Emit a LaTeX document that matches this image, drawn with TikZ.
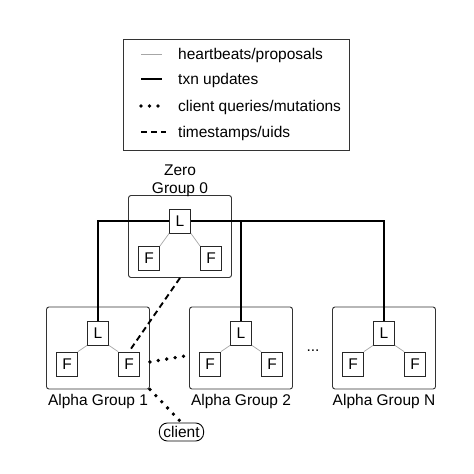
\documentclass[tikz,border=0pt]{standalone}
\usepackage{fontspec}
\setmainfont{Liberation Sans}
\usetikzlibrary{positioning}

\begin{document}
\begin{tikzpicture}[x=1pt, y=-1pt, font=\fontsize{15.5}{18}\selectfont,
		group/.style={draw=black!80, line width=0.9pt, rounded corners=2.5pt,
			minimum width=103pt, minimum height=82pt},
		role/.style={draw=black!85, line width=0.8pt, fill=white, inner sep=0pt,
			minimum width=21pt, minimum height=24pt},
		beat/.style={draw=black!35, line width=0.7pt},
		txn/.style={draw=black, line width=1.9pt},
		query/.style={draw=black, line width=3.8pt, line cap=round, dash pattern=on 0pt off 8.5pt},
		stamp/.style={draw=black, line width=1.9pt, dash pattern=on 6pt off 4pt}]
		% ==================================================
		% 1. 画布 (474 x 474)
		% ==================================================
		\useasboundingbox (0,0) rectangle (474,474);

		% 2. 图例
		\node[draw=black!80, line width=0.9pt, minimum width=226pt, minimum height=111pt] (legend) at (236.5,95) {};
		\foreach \y/\sty/\txt [count=\k] in {59/beat/{heartbeats/proposals}, 84/txn/{txn updates},
			111/query/{client queries/mutations}, 137/stamp/{timestamps/uids}} {
			\coordinate (key\k-a) at (141,\y-5);
			\coordinate (key\k-b) at (\ifnum\k=4 166\else 162\fi,\y-5);
			\draw[\sty] (key\k-a) -- (key\k-b);
			\node[anchor=base west, inner sep=0pt] (keytext\k) at (178,\y) {\txt};
		}

		% 3. Zero 组
		\node[group] (zero) at (180,236.5) {};
		\node[above=-2pt of zero, inner sep=0pt, align=center] (zerolab) {Zero\\Group 0};
		\node[role] (zero-l) at (180,221) {L};
		\node[role] (zero-fl) at (149,258.5) {F};
		\node[role] (zero-fr) at (211,258.5) {F};
		\draw[beat] (zero-l.south west) -- (zero-fl.north east);
		\draw[beat] (zero-l.south east) -- (zero-fr.north west);

		% 4. Alpha 组 (循环)
		\foreach \name/\cx/\lab in {a1/98/1, a2/241/2, aN/384/N} {
			\node[group] (\name) at (\cx,348) {};
			\node[below=5pt of \name, inner sep=0pt] (\name-lab) {Alpha Group \lab};
			\node[role] (\name-l) at (\cx,333) {L};
			\node[role] (\name-fl) at (\cx-31,364) {F};
			\node[role] (\name-fr) at (\cx+31,364) {F};
			\draw[beat] (\name-l.south west) -- (\name-fl.north east);
			\draw[beat] (\name-l.south east) -- (\name-fr.north west);
		}
		\node (more) at (313,351) {...};

		% 5. txn updates: Zero 的 L 连到各组的 L
		\draw[txn] (a1-l.north) |- (zero-l.west);
		\draw[txn] (zero-l.east) -| (aN-l.north);
		\draw[txn] (a2-l.north) -- (a2-l.north |- zero-l.east);

		% 6. timestamps/uids
		\draw[stamp] (zero.south) -- (a1-fr.north);

		% 7. client
		\node[draw=black, line width=0.9pt, rounded corners=8pt, inner xsep=4pt, inner ysep=0pt,
			minimum height=18pt] (client) at (181.5,432) {client};
		\draw[query] (a1.south east) -- (client.north);
		\draw[query] (a1.-15) -- (a2.-172);

	\end{tikzpicture}
\end{document}
